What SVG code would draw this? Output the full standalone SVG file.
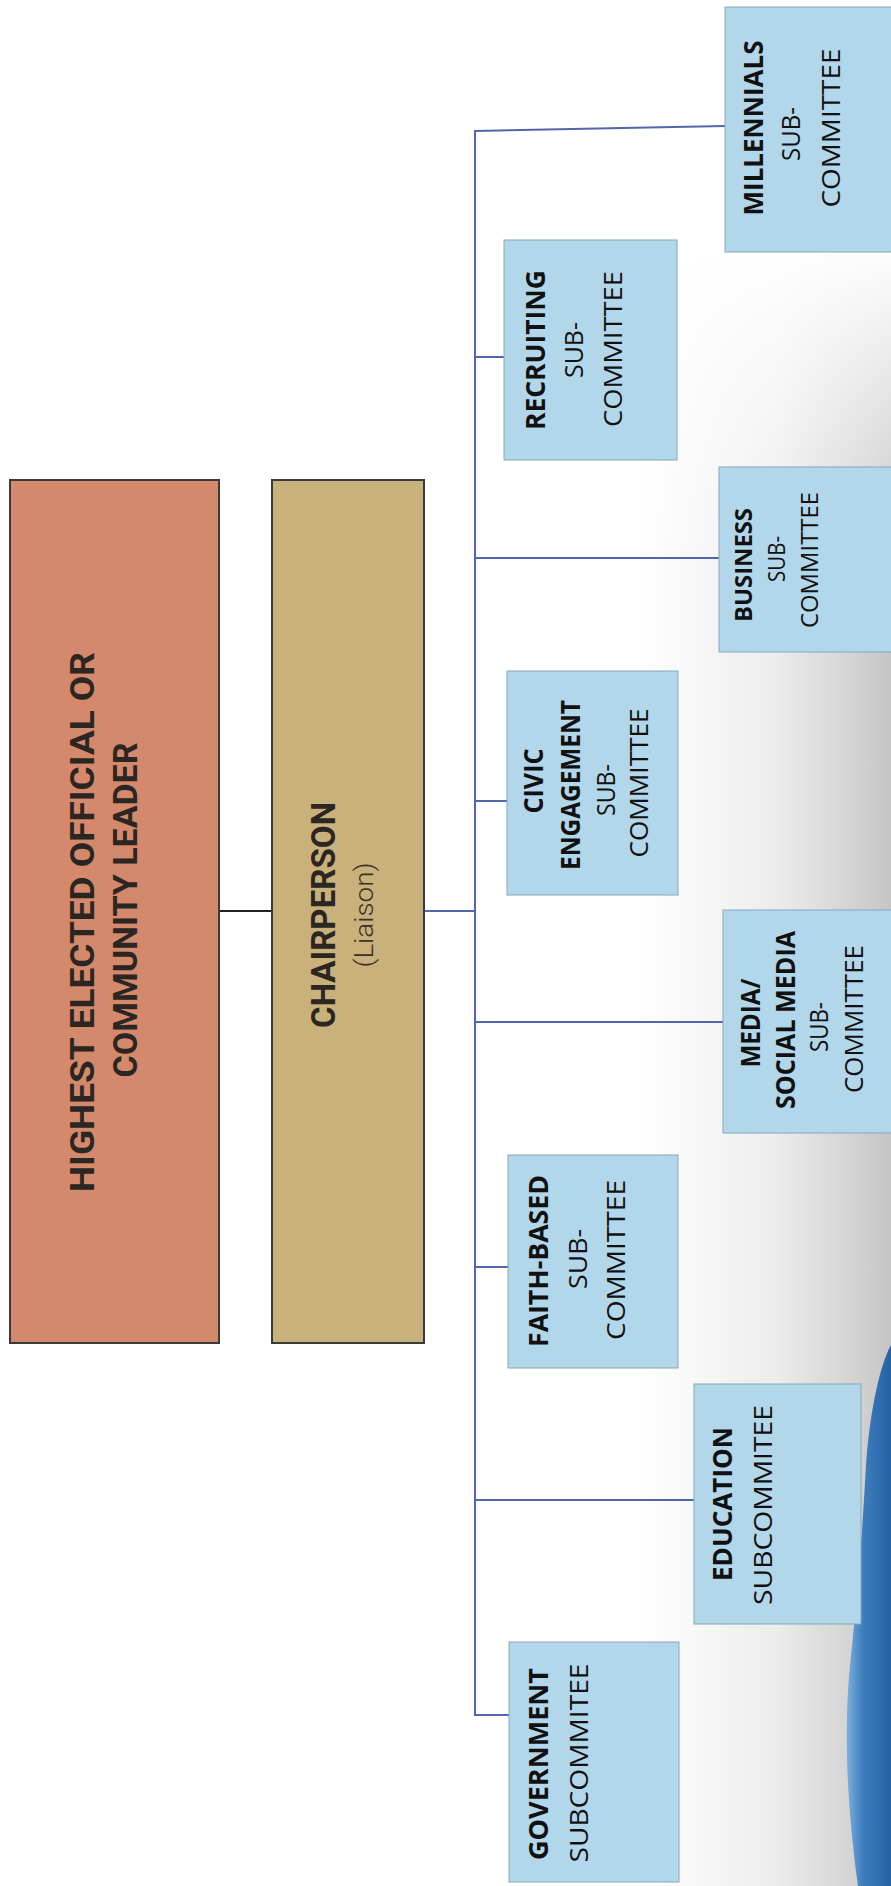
<svg xmlns="http://www.w3.org/2000/svg" width="891" height="1886" viewBox="0 0 891 1886">
<defs>
<linearGradient id="grayH" x1="0" y1="0" x2="1" y2="0">
<stop offset="0" stop-color="#ffffff"/>
<stop offset="0.55" stop-color="#ececec"/>
<stop offset="1" stop-color="#c6c6c6"/>
</linearGradient>
<linearGradient id="fadeV" x1="0" y1="0" x2="0" y2="1">
<stop offset="0" stop-color="#000"/>
<stop offset="0.2" stop-color="#fff"/>
<stop offset="1" stop-color="#fff"/>
</linearGradient>
<mask id="fadeMask" maskUnits="userSpaceOnUse" x="640" y="240" width="251" height="1646">
<rect x="640" y="240" width="251" height="1646" fill="url(#fadeV)"/>
</mask>
<linearGradient id="blueG" x1="0" y1="0" x2="1" y2="0">
<stop offset="0" stop-color="#7fb0dc"/>
<stop offset="0.35" stop-color="#3f7fbf"/>
<stop offset="1" stop-color="#2462a3"/>
</linearGradient>
<style>
.top{font-family:Roboto,"Liberation Sans",sans-serif;font-weight:bold;font-size:34px;fill:#2b2622;}
.liaison{font-family:Roboto,"Liberation Sans",sans-serif;font-weight:300;font-size:26px;fill:#3a3228;}
.b{font-family:"Open Sans","Liberation Sans",sans-serif;font-weight:bold;font-size:26px;fill:#111;}
.r{font-family:"Open Sans","Liberation Sans",sans-serif;font-weight:normal;font-size:26px;fill:#111;}
.sm{font-size:23px;}
.sub{fill:#b3d7ea;stroke:#8aa7b8;stroke-width:1;}
.conn{stroke:#5166ad;stroke-width:2;fill:none;}
</style>
</defs>
<rect x="0" y="0" width="891" height="1886" fill="#ffffff"/>
<g id="background">
<rect x="640" y="240" width="251" height="1646" fill="url(#grayH)" mask="url(#fadeMask)"/>
<path d="M891 1345 C880 1365 870 1410 866 1465 C862 1540 856 1610 850 1665 C844 1725 846 1800 858 1886 L891 1886 Z" fill="url(#blueG)"/>
</g>
<g id="connectors">
<line x1="219" y1="911" x2="272" y2="911" stroke="#222" stroke-width="2"/>
<line x1="424" y1="911" x2="475" y2="911" class="conn"/>
<line x1="475" y1="130" x2="475" y2="1716" class="conn"/>
<line x1="475" y1="131" x2="725" y2="126" class="conn"/>
<line x1="475" y1="357" x2="504" y2="357" class="conn"/>
<line x1="475" y1="558" x2="719" y2="558" class="conn"/>
<line x1="475" y1="801" x2="507" y2="801" class="conn"/>
<line x1="475" y1="1022" x2="723" y2="1022" class="conn"/>
<line x1="475" y1="1267" x2="508" y2="1267" class="conn"/>
<line x1="475" y1="1500" x2="694" y2="1500" class="conn"/>
<line x1="475" y1="1715" x2="509" y2="1715" class="conn"/>
</g>
<g id="leader">
<rect x="10" y="480" width="209" height="863" fill="#d4886c" stroke="#3a3a3a" stroke-width="2"/>
<text class="top" text-anchor="middle" transform="translate(94,922) rotate(-90)" textLength="540" lengthAdjust="spacingAndGlyphs">HIGHEST ELECTED OFFICIAL OR</text>
<text class="top" text-anchor="middle" transform="translate(137,910) rotate(-90)" textLength="335" lengthAdjust="spacingAndGlyphs">COMMUNITY LEADER</text>
</g>
<g id="chairperson">
<rect x="272" y="480" width="152" height="863" fill="#c9b17b" stroke="#3a3a3a" stroke-width="2"/>
<text class="top" text-anchor="middle" transform="translate(335,915) rotate(-90)" textLength="226" lengthAdjust="spacingAndGlyphs">CHAIRPERSON</text>
<text class="liaison" text-anchor="middle" transform="translate(373,915) rotate(-90)" textLength="105" lengthAdjust="spacingAndGlyphs">(Liaison)</text>
</g>
<g id="millennials">
<rect class="sub" x="725" y="7" width="170" height="245"/>
<text class="b" text-anchor="middle" transform="translate(763,128) rotate(-90)" textLength="175" lengthAdjust="spacingAndGlyphs">MILLENNIALS</text>
<text class="r" text-anchor="middle" transform="translate(800,134) rotate(-90)" textLength="54" lengthAdjust="spacingAndGlyphs">SUB-</text>
<text class="r" text-anchor="middle" transform="translate(840,128) rotate(-90)" textLength="159" lengthAdjust="spacingAndGlyphs">COMMITTEE</text>
</g>
<g id="recruiting">
<rect class="sub" x="504" y="240" width="173" height="220"/>
<text class="b" text-anchor="middle" transform="translate(545,350) rotate(-90)" textLength="160" lengthAdjust="spacingAndGlyphs">RECRUITING</text>
<text class="r" text-anchor="middle" transform="translate(583,350) rotate(-90)" textLength="56" lengthAdjust="spacingAndGlyphs">SUB-</text>
<text class="r" text-anchor="middle" transform="translate(622,349) rotate(-90)" textLength="156" lengthAdjust="spacingAndGlyphs">COMMITTEE</text>
</g>
<g id="business">
<rect class="sub" x="719" y="467" width="175" height="185"/>
<text class="b sm" text-anchor="middle" transform="translate(752,565) rotate(-90)" textLength="114" lengthAdjust="spacingAndGlyphs">BUSINESS</text>
<text class="r sm" text-anchor="middle" transform="translate(785,559) rotate(-90)" textLength="46" lengthAdjust="spacingAndGlyphs">SUB-</text>
<text class="r sm" text-anchor="middle" transform="translate(818,560) rotate(-90)" textLength="136" lengthAdjust="spacingAndGlyphs">COMMITTEE</text>
</g>
<g id="civic">
<rect class="sub" x="507" y="671" width="171" height="224"/>
<text class="b" text-anchor="middle" transform="translate(543,781) rotate(-90)" textLength="65" lengthAdjust="spacingAndGlyphs">CIVIC</text>
<text class="b" text-anchor="middle" transform="translate(580,785) rotate(-90)" textLength="170" lengthAdjust="spacingAndGlyphs">ENGAGEMENT</text>
<text class="r" text-anchor="middle" transform="translate(615,790) rotate(-90)" textLength="52" lengthAdjust="spacingAndGlyphs">SUB-</text>
<text class="r" text-anchor="middle" transform="translate(648,783) rotate(-90)" textLength="149" lengthAdjust="spacingAndGlyphs">COMMITTEE</text>
</g>
<g id="media">
<rect class="sub" x="723" y="910" width="172" height="223"/>
<text class="b" text-anchor="middle" transform="translate(760,1023) rotate(-90)" textLength="89" lengthAdjust="spacingAndGlyphs">MEDIA/</text>
<text class="b" text-anchor="middle" transform="translate(795,1020) rotate(-90)" textLength="178" lengthAdjust="spacingAndGlyphs">SOCIAL MEDIA</text>
<text class="r" text-anchor="middle" transform="translate(828,1027) rotate(-90)" textLength="50" lengthAdjust="spacingAndGlyphs">SUB-</text>
<text class="r" text-anchor="middle" transform="translate(863,1019) rotate(-90)" textLength="148" lengthAdjust="spacingAndGlyphs">COMMITTEE</text>
</g>
<g id="faith">
<rect class="sub" x="508" y="1155" width="170" height="213"/>
<text class="b" text-anchor="middle" transform="translate(548,1261) rotate(-90)" textLength="172" lengthAdjust="spacingAndGlyphs">FAITH-BASED</text>
<text class="r" text-anchor="middle" transform="translate(587,1259) rotate(-90)" textLength="60" lengthAdjust="spacingAndGlyphs">SUB-</text>
<text class="r" text-anchor="middle" transform="translate(625,1260) rotate(-90)" textLength="160" lengthAdjust="spacingAndGlyphs">COMMITTEE</text>
</g>
<g id="education">
<rect class="sub" x="694" y="1384" width="167" height="240"/>
<text class="b" text-anchor="middle" transform="translate(732,1504) rotate(-90)" textLength="154" lengthAdjust="spacingAndGlyphs">EDUCATION</text>
<text class="r" text-anchor="middle" transform="translate(772,1505) rotate(-90)" textLength="200" lengthAdjust="spacingAndGlyphs">SUBCOMMITEE</text>
</g>
<g id="government">
<rect class="sub" x="509" y="1642" width="170" height="240"/>
<text class="b" text-anchor="middle" transform="translate(548,1764) rotate(-90)" textLength="192" lengthAdjust="spacingAndGlyphs">GOVERNMENT</text>
<text class="r" text-anchor="middle" transform="translate(588,1763) rotate(-90)" textLength="199" lengthAdjust="spacingAndGlyphs">SUBCOMMITEE</text>
</g>
</svg>
